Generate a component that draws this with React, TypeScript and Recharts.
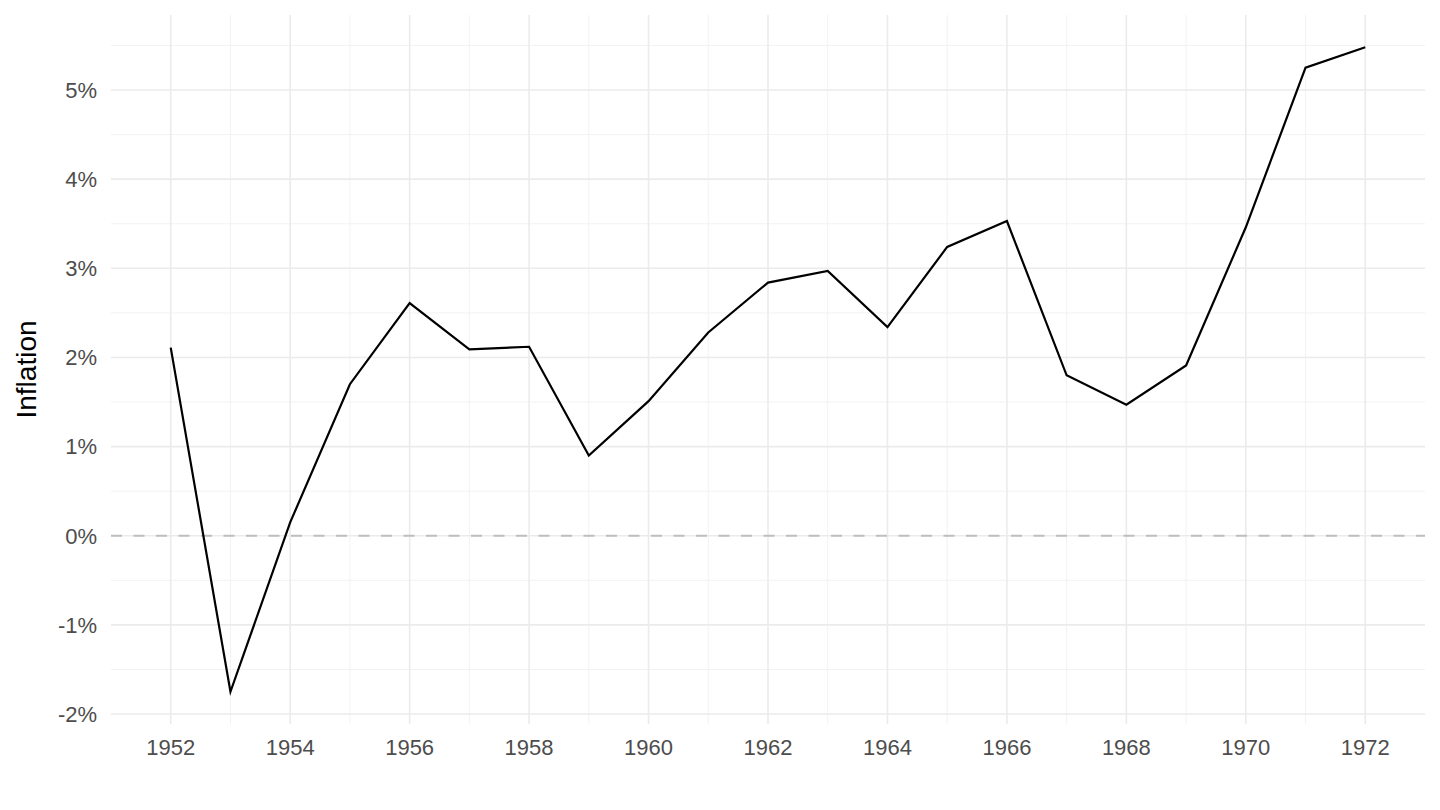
import React from "react";
import {
  LineChart,
  Line,
  XAxis,
  YAxis,
  ReferenceLine,
} from "recharts";

const YEARS = [
  1952, 1953, 1954, 1955, 1956, 1957, 1958, 1959, 1960, 1961, 1962,
  1963, 1964, 1965, 1966, 1967, 1968, 1969, 1970, 1971, 1972,
];
const INFLATION = [
  2.11, -1.75, 0.15, 1.7, 2.61, 2.09, 2.12, 0.9, 1.51, 2.28, 2.84,
  2.97, 2.34, 3.24, 3.53, 1.8, 1.47, 1.91, 3.46, 5.25, 5.48,
];

const X_TICKS = [1952, 1954, 1956, 1958, 1960, 1962, 1964, 1966, 1968, 1970, 1972];
const X_MINOR = [1953, 1955, 1957, 1959, 1961, 1963, 1965, 1967, 1969, 1971];
const Y_TICKS = [-2, -1, 0, 1, 2, 3, 4, 5];
const Y_MINOR = [-1.5, -0.5, 0.5, 1.5, 2.5, 3.5, 4.5, 5.5];

const data = YEARS.map((year, i) => ({ year, value: INFLATION[i] }));

// ggplot-style 5% expansion on both scales
const expand = (lo: number, hi: number): [number, number] => {
  const pad = (hi - lo) * 0.05;
  return [lo - pad, hi + pad];
};
const xDomain = expand(Math.min(...YEARS), Math.max(...YEARS));
const yDomain = expand(Math.min(...INFLATION), Math.max(...INFLATION));

const FONT = "'Liberation Sans', Arial, sans-serif";
const tickStyle = { fontSize: 22, fill: "#4D4D4D", fontFamily: FONT };
const MAJOR = { stroke: "#EBEBEB", strokeWidth: 1.6 };
const MINOR = { stroke: "#F0F0F0", strokeWidth: 0.9 };

export default function App() {
  return (
    <div style={{ position: "absolute", left: 0, top: 0, background: "#fff" }}>
      <LineChart
        width={1440}
        height={810}
        data={data}
        margin={{ top: 15, right: 15, bottom: 46, left: 0 }}
      >
        {X_MINOR.map((x) => (
          <ReferenceLine key={"xm" + x} x={x} {...MINOR} />
        ))}
        {Y_MINOR.map((y) => (
          <ReferenceLine key={"ym" + y} y={y} {...MINOR} />
        ))}
        {X_TICKS.map((x) => (
          <ReferenceLine key={"xM" + x} x={x} {...MAJOR} />
        ))}
        {Y_TICKS.map((y) => (
          <ReferenceLine key={"yM" + y} y={y} {...MAJOR} />
        ))}
        <XAxis
          dataKey="year"
          type="number"
          domain={xDomain}
          ticks={X_TICKS}
          allowDataOverflow
          axisLine={false}
          tickLine={false}
          tickSize={0}
          tickMargin={15}
          height={40}
          tick={tickStyle}
        />
        <YAxis
          type="number"
          domain={yDomain}
          ticks={Y_TICKS}
          allowDataOverflow
          axisLine={false}
          tickLine={false}
          tickSize={0}
          tickMargin={14}
          width={111}
          tick={tickStyle}
          tickFormatter={(v: number) => `${v}%`}
          label={{
            value: "Inflation",
            angle: -90,
            position: "insideLeft",
            offset: 26,
            style: { textAnchor: "middle", fontSize: 28, fill: "#000", fontFamily: FONT },
          }}
        />
        <ReferenceLine y={0} stroke="#BEBEBE" strokeWidth={1.8} strokeDasharray="11 11.5" />
        <Line
          type="linear"
          dataKey="value"
          stroke="#000"
          strokeWidth={2.2}
          dot={false}
          isAnimationActive={false}
        />
      </LineChart>
    </div>
  );
}
